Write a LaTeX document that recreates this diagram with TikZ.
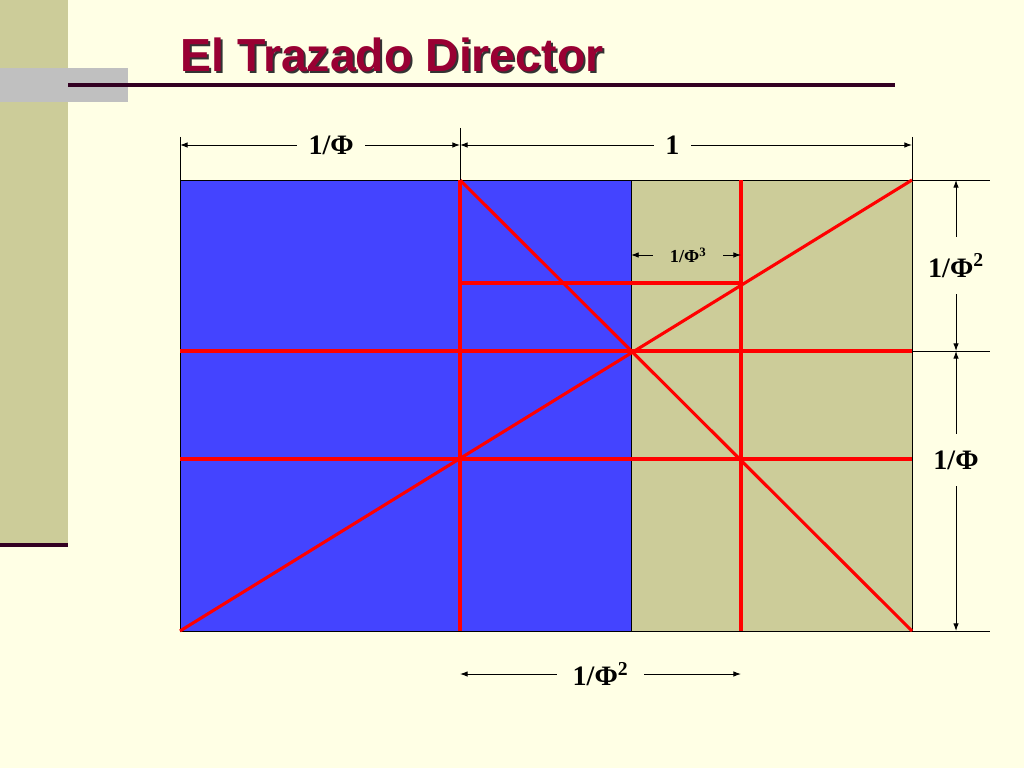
\documentclass[tikz,border=0pt]{standalone}
\usepackage{fontspec}
\setmainfont{Liberation Serif}
\newfontfamily\titlefont{Liberation Sans}
\usepackage{xcolor}
\usepackage{tikz}
\usetikzlibrary{arrows.meta}

\definecolor{paper}{HTML}{FFFFE5}
\definecolor{khaki}{HTML}{CCCC99}
\definecolor{goldblue}{HTML}{4444FF}
\definecolor{plum}{HTML}{330022}
\definecolor{silver}{HTML}{C0C0C0}
\definecolor{titlered}{HTML}{990033}
\definecolor{guidered}{HTML}{FF0000}

\begin{document}
\begin{tikzpicture}[x=0.025cm, y=-0.025cm]
			\tikzstyle{guide} = [draw=guidered, line width=2.2pt]
			\tikzstyle{extline} = [draw, line width=0.6pt]
			\tikzstyle{rule} = [draw=plum, line width=2.8pt]
			\tikzstyle{titletext} = [font=\titlefont\bfseries\fontsize{33}{40}\selectfont, inner sep=0pt]
			\tikzstyle{dimlabel} = [fill=paper, inner xsep=8pt, inner ysep=8pt, font=\bfseries\fontsize{20}{24}\selectfont]
			\tikzstyle{smalllabel} = [fill=khaki, inner xsep=12pt, inner ysep=2pt, font=\bfseries\fontsize{13}{16}\selectfont]
			\tikzset{measure/.style = {draw, line width=0.7pt, <->, >= {Latex[length=5.5pt, width=4pt]}}}
			
			\fill[paper] (0,0) rectangle (1024,768);
			\useasboundingbox (0,0) rectangle (1024,768);
			
			\fill[khaki] (0,0) rectangle (68,545);
			\draw[rule] (0,545) -- (68,545);
			\fill[silver] (0,68) rectangle (128,102);
			\coordinate (ruleA) at (68,85);
			\coordinate (ruleB) at (895,85);
			\draw[rule] (ruleA) -- (ruleB);
			
			\node[titletext, text=black!80](titleshadow) at (394,57) {El Trazado Director};
			\node[titletext, text=titlered](title) at (392,55) {El Trazado Director};
			
			\coordinate (nw) at (180,180);
			\coordinate (se) at (912,631);
			\coordinate (sw) at (180,631);
			\coordinate (ne) at (912,180);
			\coordinate (splitN) at (631,180);
			\coordinate (splitS) at (631,631);
			\fill[goldblue] (nw) rectangle (splitS);
			\fill[khaki] (splitN) rectangle (se);
			\draw[line width=0.7pt] (nw) rectangle (se);
			\draw[line width=0.6pt] (splitN) -- (splitS);
			
			\coordinate (aN) at (460,180);
			\coordinate (aS) at (460,631);
			\coordinate (bN) at (741,180);
			\coordinate (bS) at (741,631);
			\coordinate (mW) at (180,351);
			\coordinate (mE) at (912,351);
			\coordinate (lW) at (180,459);
			\coordinate (lE) at (912,459);
			\coordinate (uW) at (460,283);
			\coordinate (uE) at (741,283);
			\draw[guide] (aN) -- (aS);
			\draw[guide] (bN) -- (bS);
			\draw[guide] (mW) -- (mE);
			\draw[guide] (lW) -- (lE);
			\draw[guide] (uW) -- (uE);
			\draw[guide] (sw) -- (ne);
			\draw[guide] (aN) -- (se);
			
			\coordinate (extA) at (180,137);
			\coordinate (extB) at (460,128);
			\coordinate (extC) at (912,137);
			\draw[extline] (extA) -- (nw);
			\draw[extline] (extB) -- (aN);
			\draw[extline] (extC) -- (ne);
			\coordinate (extD) at (990,180);
			\coordinate (extE) at (990,351);
			\coordinate (extF) at (990,631);
			\draw[extline] (ne) -- (extD);
			\draw[extline] (mE) -- (extE);
			\draw[extline] (se) -- (extF);
			
			\coordinate (topA) at (180,145);
			\coordinate (topB) at (460,145);
			\coordinate (topC) at (912,145);
			\draw[measure] (topA) -- node[dimlabel, pos=0.54](invphi) {1/Φ} (topB);
			\draw[measure] (topB) -- node[dimlabel, pos=0.47](unit) {1} (topC);
			
			\coordinate (sideA) at (956,180);
			\coordinate (sideB) at (956,351);
			\coordinate (sideC) at (956,631);
			\draw[measure] (sideA) -- node[dimlabel, inner ysep=12pt, pos=0.5](invphisqR) {1/Φ\textsuperscript{2}} (sideB);
			\draw[measure] (sideB) -- node[dimlabel, inner ysep=12pt, pos=0.39](invphiR) {1/Φ} (sideC);
			
			\coordinate (botA) at (460,674);
			\coordinate (botB) at (741,674);
			\draw[measure] (botA) -- node[dimlabel, inner xsep=11pt](invphisqB) {1/Φ\textsuperscript{2}} (botB);
			
			\coordinate (cubeA) at (631,255);
			\coordinate (cubeB) at (741,255);
			\draw[measure] (cubeA) -- node[smalllabel, pos=0.52](invphicube) {1/Φ\textsuperscript{3}} (cubeB);
			
\end{tikzpicture}
\end{document}
